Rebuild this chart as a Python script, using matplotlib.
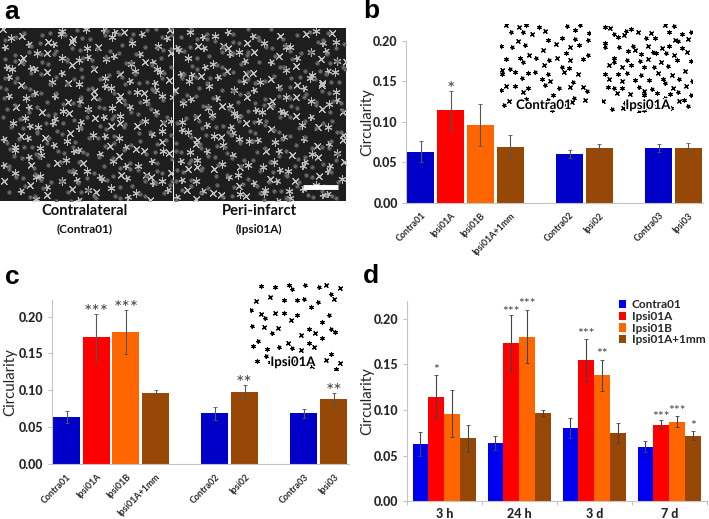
import numpy as np
import matplotlib
matplotlib.use("Agg")
import matplotlib.pyplot as plt
import matplotlib.patheffects as pe
from matplotlib.transforms import ScaledTranslation

plt.rcParams['font.family'] = ['Lato', 'DejaVu Sans']

W, H = 709, 519
BLUE = '#0000C8'
BLUE_D = '#0000F0'
RED = '#FF0000'
ORANGE = '#FF6600'
BROWN = '#974706'
TXT = '#262626'

b_labels = ['Contra01', 'Ipsi01A', 'Ipsi01B', 'Ipsi01A+1mm', 'Contra02', 'Ipsi02', 'Contra03', 'Ipsi03']
b_values = [0.063, 0.114, 0.096, 0.069, 0.0605, 0.067, 0.067, 0.067]
b_errors = [0.013, 0.024, 0.026, 0.015, 0.005, 0.006, 0.005, 0.007]
c_values = [0.064, 0.172, 0.179, 0.097, 0.069, 0.098, 0.069, 0.088]
c_errors = [0.008, 0.031, 0.030, 0.003, 0.009, 0.0095, 0.006, 0.009]
b_stars = ['', '*', '', '', '', '', '', '']
c_stars = ['', '***', '***', '', '', '**', '', '**']

groups = ['3 h', '24 h', '3 d', '7 d']
series = ['Contra01', 'Ipsi01A', 'Ipsi01B', 'Ipsi01A+1mm']
d_values = {
    'Contra01': [0.063, 0.064, 0.0805, 0.060],
    'Ipsi01A': [0.114, 0.173, 0.155, 0.084],
    'Ipsi01B': [0.096, 0.180, 0.138, 0.087],
    'Ipsi01A+1mm': [0.069, 0.097, 0.075, 0.072],
}
d_errors = {
    'Contra01': [0.013, 0.008, 0.011, 0.006],
    'Ipsi01A': [0.024, 0.031, 0.023, 0.005],
    'Ipsi01B': [0.026, 0.029, 0.017, 0.006],
    'Ipsi01A+1mm': [0.015, 0.0035, 0.011, 0.0045],
}
d_stars = {
    'Contra01': ['', '', '', ''],
    'Ipsi01A': ['*', '***', '***', '***'],
    'Ipsi01B': ['', '***', '**', '***'],
    'Ipsi01A+1mm': ['', '', '', '*'],
}
d_star_heights = {
    'Contra01': [0, 0, 0, 0],
    'Ipsi01A': [0.149, 0.212, 0.1887, 0.097],
    'Ipsi01B': [0, 0.221, 0.1664, 0.1044],
    'Ipsi01A+1mm': [0, 0, 0, 0.0876],
}

fig = plt.figure(figsize=(W / 100, H / 100), dpi=100, facecolor='white')


def axes_px(x0, y0, x1, y1, **kw):
    """Axes from pixel box, y measured from the top of the figure."""
    return fig.add_axes([x0 / W, 1 - y1 / H, (x1 - x0) / W, (y1 - y0) / H], **kw)


def style(ax, ymax, label_px):
    ax.set_ylim(0, ymax)
    ax.set_yticks([0, 0.05, 0.10, 0.15, 0.20])
    ax.set_yticklabels(['0.00', '0.05', '0.10', '0.15', '0.20'],
                       fontsize=9, fontweight='black', color=TXT)
    ax.tick_params(axis='y', length=3, width=0.7, color='#BFBFBF', pad=3)
    ax.tick_params(axis='x', length=0)
    for s in ('top', 'right'):
        ax.spines[s].set_visible(False)
    for s in ('left', 'bottom'):
        ax.spines[s].set_color('#C4C4C4')
        ax.spines[s].set_linewidth(0.8)
    ax.set_ylabel('Circularity', fontsize=10.8, color=TXT, va='center')
    box_w = ax.get_position().width * W
    ax.yaxis.set_label_coords(-label_px / box_w, 0.5)
    ax.patch.set_alpha(0)


def single_panel(ax, values, errors, stars, ymax, label_px):
    pos = [0, 1, 2, 3, 5, 6, 8, 9]
    cols = [BLUE, RED, ORANGE, BROWN, BLUE, BROWN, BLUE, BROWN]
    ax.bar(pos, values, width=0.91, color=cols, edgecolor='none')
    ax.errorbar(pos, values, yerr=errors, fmt='none', ecolor='#555555',
                elinewidth=0.8, capsize=1.2, capthick=0.6)
    ax.set_xlim(-0.5, 9.5)
    ax.set_xticks(pos)
    ax.set_xticklabels(b_labels, rotation=45, ha='right', rotation_mode='anchor',
                       fontsize=6.4, fontweight='bold', color=TXT)
    ax.tick_params(axis='x', pad=6)
    shift = ScaledTranslation(5 / 100, 0, fig.dpi_scale_trans)
    for lab in ax.get_xticklabels():
        lab.set_transform(lab.get_transform() + shift)
    for p, v, e, s in zip(pos, values, errors, stars):
        if s:
            ax.text(p, v + e + 0.002, s, ha='center', va='center', fontsize=14,
                    color='#444444')
    style(ax, ymax, label_px)


def scatter_points(n, seed):
    """Evenly scattered, non-data positions for the micrograph stand-ins."""
    g = 1.32471795724
    i = np.arange(1, n + 1)
    u = (seed + i / g + 0.035 * np.sin(i * 2.4)) % 1
    v = (seed * 1.7 + i / g ** 2 + 0.035 * np.cos(i * 3.7)) % 1
    return u, v


def cell_field(ax, n, seed, color, bg, size, lw):
    ax.set_facecolor(bg)
    u, v = scatter_points(n, seed)
    for k, (m, s) in enumerate((((6, 2, 0), size), ((5, 2, 25), size * 0.75), ((4, 2, 40), size * 1.2))):
        ax.scatter(u[k::3], v[k::3], marker=m, s=s, c=color, linewidths=lw)
    ax.set_xlim(0, 1)
    ax.set_ylim(0, 1)
    ax.set_xticks([])
    ax.set_yticks([])
    for sp in ax.spines.values():
        sp.set_visible(False)


# --- panel a: micrograph areas (stand-in marks, scale bar, captions)
for x0, x1, seed in ((0, 173, 0.13), (174, 346, 0.57)):
    ax = axes_px(x0, 28, x1, 201)
    cell_field(ax, 170, seed, '#BEBEBE', '#1E1E1E', 28, 0.75)
    u, v = scatter_points(220, seed + 0.3)
    ax.scatter(u, v, marker=(6, 2, 15), s=9, c='#6A6A6A', linewidths=0.5)
    if x0:
        ax.plot([129 / 172, 164 / 172], [14 / 173, 14 / 173], color='white', lw=3.5,
                solid_capstyle='butt')


def ftext(x, y, s, **kw):
    kw.setdefault('ha', 'center')
    kw.setdefault('va', 'center')
    kw.setdefault('color', '#111111')
    return fig.text(x / W, 1 - y / H, s, **kw)


ftext(85, 211, 'Contralateral', fontsize=10.6, fontweight='bold')
ftext(85, 229, '(Contra01)', fontsize=8.5, fontweight='bold')
ftext(259, 211, 'Peri-infarct', fontsize=10.6, fontweight='bold')
ftext(259, 229, '(Ipsi01A)', fontsize=8.5, fontweight='bold')

for x, y, s in ((12, 12, 'a'), (371, 11, 'b'), (12, 277, 'c'), (371, 276, 'd')):
    ftext(x, y, s, fontsize=19, fontweight='bold', family=['Liberation Sans'], color='black')

# --- panel b
ax_b = axes_px(406, 40.7, 703.3, 202.7)
single_panel(ax_b, b_values, b_errors, b_stars, 0.20, 39)

# --- panel c
ax_c = axes_px(51.7, 299.5, 348.5, 464)
single_panel(ax_c, c_values, c_errors, c_stars, 0.2232, 41.7)

# inset stand-ins (sparse dark marks on white)
for box, n, seed in (((500, 24, 590, 112), 75, 0.21), ((602, 24, 692, 112), 95, 0.66),
                     ((250, 281, 342, 370), 55, 0.41)):
    ax = axes_px(*box)
    cell_field(ax, n, seed, 'black', 'white', 9, 0.8)

halo = [pe.withStroke(linewidth=2, foreground='white')]
ftext(544, 105, 'Contra01', fontsize=9.5, fontweight='bold', color='black', path_effects=halo)
ftext(648, 105, 'Ipsi01A', fontsize=9.5, fontweight='bold', color='black', path_effects=halo)
ftext(293, 362, 'Ipsi01A', fontsize=9.5, fontweight='bold', color='black', path_effects=halo)

# --- panel d
ax_d = axes_px(406.7, 300.7, 706.7, 501.3)
x = np.arange(len(groups))
bw = 0.2111
for i, (name, col) in enumerate(zip(series, [BLUE_D, RED, ORANGE, BROWN])):
    off = x + (i - 1.5) * bw
    ax_d.bar(off, d_values[name], width=bw, color=col, label=name, edgecolor='none')
    ax_d.errorbar(off, d_values[name], yerr=d_errors[name], fmt='none', ecolor='#444444',
                  elinewidth=0.8, capsize=1.2, capthick=0.6)
    for p, h, s in zip(off, d_star_heights[name], d_stars[name]):
        if s:
            ax_d.text(p, h - 0.005, s, ha='center', va='center', fontsize=10, color='#444444')
ax_d.set_xlim(-0.5, 3.5)
ax_d.set_xticks(x)
ax_d.set_xticklabels(groups, fontsize=9, fontweight='black', color=TXT)
ax_d.set_xticks(np.arange(-0.5, 4), minor=True)
ax_d.tick_params(axis='x', which='minor', length=3, width=0.7, color='#BFBFBF')
style(ax_d, 0.2197, 39.7)
ax_d.tick_params(axis='x', which='major', length=0, pad=5)
ax_d.legend(loc='upper right', bbox_to_anchor=(1.0, 1.012), frameon=False,
            prop={'size': 8.5, 'weight': 'bold'}, handlelength=0.6, handleheight=0.7,
            handletextpad=0.5, labelspacing=0.05, borderaxespad=0, borderpad=0.1,
            labelcolor=TXT)

fig.savefig('out.png', dpi=100)
